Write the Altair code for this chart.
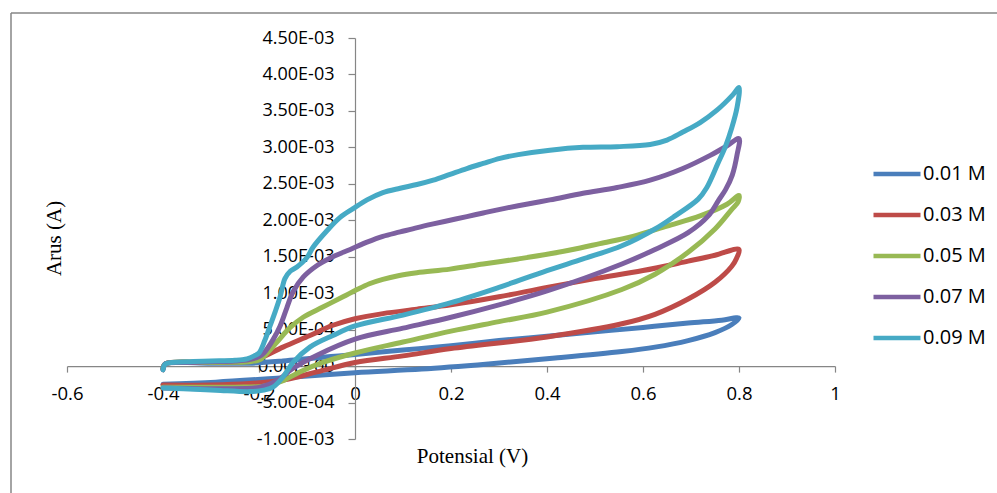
import altair as alt
import pandas as pd

# Cyclic voltammograms: potential (V) and current (mA) for each concentration.
# Each list runs forward from -0.4 V to 0.8 V and then back to -0.4 V.
labels = ["0.01 M", "0.03 M", "0.05 M", "0.07 M", "0.09 M"]
colors = ["#4a7ebb", "#be4b48", "#98b954", "#7d60a0", "#46aac5"]

v_001 = [-0.400, -0.395, -0.30, -0.22, -0.15, -0.10, -0.05, 0.0, 0.10, 0.20, 0.30, 0.40, 0.50,
         0.60, 0.694, 0.764, 0.80,
         0.785, 0.75, 0.694, 0.625, 0.556, 0.417, 0.278, 0.139, 0.0, -0.15, -0.29, -0.40]
i_001 = [-0.03, 0.03, 0.04, 0.04, 0.07, 0.10, 0.13, 0.16, 0.22, 0.28, 0.35, 0.41, 0.47,
         0.53, 0.59, 0.63, 0.66,
         0.57, 0.46, 0.35, 0.26, 0.20, 0.11, 0.03, -0.04, -0.09, -0.16, -0.22, -0.25]

v_003 = [-0.400, -0.395, -0.30, -0.22, -0.198, -0.15, -0.094, -0.046, 0.0, 0.058, 0.129, 0.20,
         0.30, 0.40, 0.50, 0.60, 0.694, 0.75, 0.80,
         0.795, 0.785, 0.75, 0.694, 0.625, 0.556, 0.40, 0.20, 0.10, 0.0, -0.079, -0.15, -0.22,
         -0.30, -0.40]
i_003 = [-0.04, 0.03, 0.05, 0.07, 0.11, 0.26, 0.42, 0.56, 0.65, 0.72, 0.78, 0.84,
         0.95, 1.08, 1.20, 1.31, 1.44, 1.52, 1.60,
         1.48, 1.37, 1.15, 0.92, 0.71, 0.58, 0.40, 0.24, 0.14, 0.05, -0.08, -0.19, -0.24,
         -0.26, -0.26]

v_005 = [-0.400, -0.395, -0.30, -0.22, -0.198, -0.18, -0.1625, -0.135, -0.108, -0.067, -0.025, 0.004,
         0.03, 0.058, 0.09, 0.129, 0.198, 0.267, 0.34, 0.406, 0.469, 0.51, 0.579, 0.65, 0.719,
         0.775, 0.80,
         0.798, 0.785, 0.75, 0.694, 0.625, 0.556, 0.40, 0.30, 0.20, 0.10, 0.0, -0.067, -0.115,
         -0.15, -0.183, -0.25, -0.33, -0.40]
i_005 = [-0.04, 0.03, 0.05, 0.06, 0.09, 0.20, 0.33, 0.53, 0.67, 0.81, 0.95, 1.05,
         1.13, 1.19, 1.24, 1.28, 1.33, 1.40, 1.47, 1.54, 1.62, 1.68, 1.78, 1.92, 2.06,
         2.22, 2.34,
         2.25, 2.15, 1.88, 1.56, 1.26, 1.05, 0.74, 0.61, 0.48, 0.33, 0.18, 0.05, -0.08,
         -0.20, -0.27, -0.29, -0.29, -0.29]

v_007 = [-0.400, -0.395, -0.35, -0.30, -0.25, -0.22, -0.20, -0.19, -0.171, -0.156, -0.142, -0.129,
         -0.108, -0.079, -0.046, -0.01, 0.025, 0.058, 0.094, 0.13, 0.163, 0.198, 0.233, 0.267,
         0.302, 0.34, 0.406, 0.475, 0.546, 0.615, 0.683, 0.74, 0.775, 0.80,
         0.796, 0.786, 0.772, 0.757, 0.736, 0.694, 0.625, 0.556, 0.40, 0.30, 0.20, 0.10, 0.0,
         -0.079, -0.129, -0.1625, -0.198, -0.29, -0.40]
i_007 = [-0.05, 0.03, 0.05, 0.06, 0.07, 0.09, 0.13, 0.18, 0.36, 0.55, 0.80, 1.02,
         1.22, 1.38, 1.50, 1.60, 1.70, 1.78, 1.84, 1.90, 1.95, 2.00, 2.05, 2.10,
         2.15, 2.20, 2.28, 2.37, 2.45, 2.55, 2.71, 2.89, 3.02, 3.12,
         2.90, 2.62, 2.42, 2.27, 2.06, 1.83, 1.60, 1.40, 1.03, 0.84, 0.67, 0.52, 0.37,
         0.15, -0.03, -0.20, -0.29, -0.31, -0.30]

v_009 = [-0.400, -0.395, -0.35, -0.30, -0.25, -0.225, -0.21, -0.20, -0.188, -0.177, -0.166, -0.156,
         -0.146, -0.135, -0.121, -0.10, -0.0875, -0.058, -0.031, -0.004, 0.025, 0.058, 0.094,
         0.129, 0.163, 0.198, 0.233, 0.267, 0.302, 0.34, 0.406, 0.475, 0.546, 0.615, 0.65,
         0.683, 0.719, 0.754, 0.787, 0.80,
         0.796, 0.785, 0.771, 0.756, 0.733, 0.715, 0.667, 0.625, 0.556, 0.475, 0.40, 0.30,
         0.20, 0.10, 0.0, -0.046, -0.094, -0.129, -0.15, -0.171, -0.19, -0.219, -0.29,
         -0.358, -0.40]
i_009 = [-0.05, 0.03, 0.06, 0.07, 0.08, 0.10, 0.14, 0.18, 0.35, 0.55, 0.75, 0.95,
         1.20, 1.30, 1.36, 1.49, 1.63, 1.86, 2.04, 2.16, 2.28, 2.38, 2.44,
         2.49, 2.55, 2.63, 2.71, 2.78, 2.85, 2.90, 2.96, 3.00, 3.01, 3.04, 3.10,
         3.21, 3.34, 3.51, 3.72, 3.82,
         3.55, 3.27, 3.00, 2.78, 2.45, 2.29, 2.06, 1.88, 1.65, 1.47, 1.31, 1.08,
         0.87, 0.70, 0.55, 0.42, 0.26, 0.05, -0.15, -0.29, -0.33, -0.35, -0.33,
         -0.31, -0.30]

x_ticks = [-0.6, -0.4, -0.2, 0, 0.2, 0.4, 0.6, 0.8, 1.0]
y_ticks = [-1.0e-3, -0.5e-3, 0, 0.5e-3, 1.0e-3, 1.5e-3, 2.0e-3, 2.5e-3, 3.0e-3, 3.5e-3, 4.0e-3, 4.5e-3]

series = [(labels[0], v_001, i_001), (labels[1], v_003, i_003), (labels[2], v_005, i_005),
          (labels[3], v_007, i_007), (labels[4], v_009, i_009)]

rows = []
for name, vs, cs in series:
    assert len(vs) == len(cs), name
    for k, (v, c) in enumerate(zip(vs, cs)):
        rows.append({"conc": name, "step": k, "potential": v, "current": c * 1e-3})
df = pd.DataFrame(rows)

W, H = 768, 401
AXIS_GRAY = "#868686"
SANS = "Open Sans"
SERIF = "Liberation Serif"

# Excel-style scientific labels, e.g. 4.50E-03 / 0.00E+00 / -5.00E-04
y_label_expr = ("replace(replace(replace(format(datum.value, '.2e'), '\u2212', '-'), "
                "'e-', 'E-0'), 'e+', 'E+0')")
x_label_expr = "'' + (round(datum.value * 10) / 10)"

curves = alt.Chart(df).mark_line(
    strokeWidth=5, strokeCap="round", strokeJoin="round", interpolate="catmull-rom", clip=False
).encode(
    x=alt.X("potential:Q",
            scale=alt.Scale(domain=[-0.6, 1.0], nice=False, zero=False),
            axis=alt.Axis(values=x_ticks, labelExpr=x_label_expr, offset=-72.9, tickSize=6,
                          labelPadding=12, labelFontSize=18.5, labelFont=SANS, labelColor="#000",
                          labelFlush=False, labelOverlap=False,
                          domainColor=AXIS_GRAY, tickColor=AXIS_GRAY, domainWidth=1.2, tickWidth=1.2,
                          grid=False, title="Potensial (V)", titleFont=SERIF, titleFontSize=21,
                          titleFontWeight="normal", titleColor="#000", titleX=405, titleY=90,
                          titleBaseline="middle", titleAnchor="start", titleAlign="center")),
    y=alt.Y("current:Q",
            scale=alt.Scale(domain=[-1.0e-3, 4.5e-3], nice=False, zero=False),
            axis=alt.Axis(values=y_ticks, labelExpr=y_label_expr,
                          offset=-288, tickSize=7, labelPadding=14, labelFontSize=18, labelFont=SANS,
                          labelColor="#000", labelFlush=False, labelOverlap=False,
                          domainColor=AXIS_GRAY, tickColor=AXIS_GRAY,
                          domainWidth=1.2, tickWidth=1.2, grid=False,
                          title="Arus (A)", titleFont=SERIF, titleFontSize=21, titleFontWeight="normal",
                          titleColor="#000", titleAngle=-90, titleX=-301, titleY=200,
                          titleAlign="center", titleBaseline="middle")),
    color=alt.Color("conc:N",
                    scale=alt.Scale(domain=labels, range=colors),
                    legend=alt.Legend(title=None, orient="none", legendX=804, legendY=110,
                                      symbolType="stroke", symbolSize=2209, symbolStrokeWidth=4.5,
                                      labelFont=SANS, labelFontSize=20, labelColor="#000",
                                      labelOffset=0, rowPadding=5, padding=0)),
    order=alt.Order("step:Q"),
    detail="conc:N",
)

# Thin outer frame of the chart area
frame_src = alt.Data(values=[{}])
frame_left = alt.Chart(frame_src).mark_rule(color=AXIS_GRAY, strokeWidth=1.5, clip=False).encode(
    x=alt.value(-56), y=alt.value(-25), y2=alt.value(H + 60))
frame_top = alt.Chart(frame_src).mark_rule(color=AXIS_GRAY, strokeWidth=1.5, clip=False).encode(
    x=alt.value(-56), x2=alt.value(W + 170), y=alt.value(-25))

chart = alt.layer(frame_left, frame_top, curves).properties(
    width=W, height=H,
    background="white",
    autosize=alt.AutoSizeParams(type="none"),
    padding={"left": 67, "top": 38, "right": 162, "bottom": 54},
).configure_view(strokeWidth=0)

chart.save("out.html", embed_options={"renderer": "svg", "actions": False})
